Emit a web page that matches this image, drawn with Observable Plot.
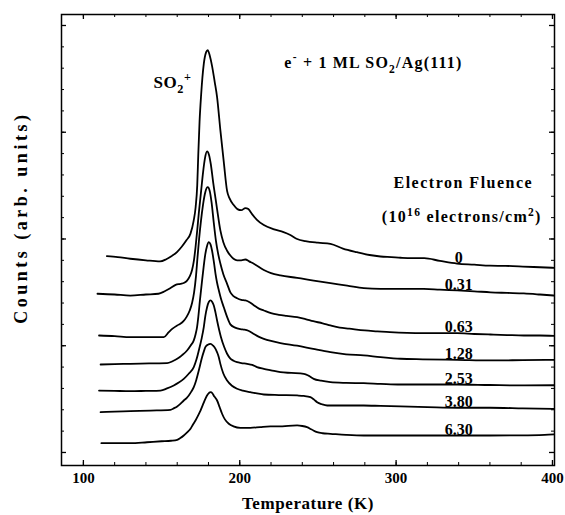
<!DOCTYPE html>
<html>
<head>
<meta charset="utf-8">
<script src="https://cdn.jsdelivr.net/npm/d3@7"></script>
<script src="https://cdn.jsdelivr.net/npm/@observablehq/plot@0.6"></script>
<style>
  html, body { margin: 0; padding: 0; background: #fff; }
  #chart svg { display: block; }
</style>
</head>
<body>
<div id="chart"></div>
<script>
// ---------- data (temperature K, counts arb. units) ----------
const fluenceLabels = ["0", "0.31", "0.63", "1.28", "2.53", "3.80", "6.30"];

const curve0 = [[115,1.84],[122,1.83],[130,1.815],[140,1.80],[149,1.79],[153,1.81],[156,1.835],[160,1.88],[163,1.93],[166,1.99],[168.5,2.05],[170.5,2.17],[171.8,2.3],[172.8,2.5],[173.5,2.8],[174.3,3.1],[175.3,3.35],[177,3.64],[178.5,3.75],[179.5,3.77],[180.8,3.72],[182.3,3.62],[184,3.47],[185.5,3.33],[187.6,3.02],[189.8,2.72],[191.9,2.45],[193.5,2.38],[196,2.32],[198.5,2.28],[201,2.27],[203.6,2.29],[205.5,2.28],[208,2.23],[211,2.18],[215.4,2.13],[222,2.09],[228,2.064],[232,2.04],[236.7,2.0],[242,1.98],[250,1.965],[258,1.955],[266,1.91],[275,1.876],[283,1.85],[290,1.836],[297,1.83],[303,1.824],[310,1.82],[318,1.82],[328,1.795],[339,1.77],[350,1.76],[360,1.75],[370,1.748],[381,1.742],[392,1.735],[401,1.73]];

const curve1 = [[109,1.487],[120,1.48],[130,1.47],[140,1.48],[148,1.487],[152,1.51],[155.7,1.54],[159,1.57],[162,1.58],[164.5,1.59],[166.3,1.61],[168,1.65],[169.5,1.71],[170.7,1.8],[171.7,1.92],[172.8,2.08],[173.8,2.24],[175.3,2.45],[176.5,2.62],[177.8,2.76],[179.1,2.82],[180.3,2.79],[181.5,2.7],[183,2.53],[184.5,2.38],[185.5,2.28],[187.6,2.08],[189.5,1.97],[191.9,1.89],[194,1.845],[196,1.815],[198.3,1.80],[201,1.80],[203.6,1.808],[206,1.79],[209,1.768],[215.4,1.71],[220,1.68],[226,1.658],[236.7,1.636],[247.3,1.61],[258,1.586],[268.7,1.564],[279.3,1.54],[290,1.533],[302.8,1.533],[317.7,1.533],[328,1.525],[339,1.518],[350,1.51],[360.4,1.50],[371,1.495],[381.7,1.49],[392,1.48],[401,1.47]];

const curve2 = [[110,1.096],[120,1.09],[130,1.08],[140,1.08],[151.4,1.08],[154.6,1.127],[157,1.16],[160,1.19],[162,1.205],[164,1.23],[166,1.27],[168,1.33],[169.5,1.40],[170.8,1.50],[172,1.65],[173,1.83],[174,2.0],[175.2,2.17],[176.5,2.32],[178,2.44],[179.5,2.485],[180.8,2.45],[182,2.34],[183.4,2.15],[184.8,1.98],[186.2,1.86],[187.6,1.77],[189.5,1.67],[191.9,1.58],[194,1.50],[196,1.465],[198.3,1.445],[201,1.43],[203.6,1.424],[206,1.41],[209,1.38],[212,1.35],[215.4,1.33],[220,1.305],[225,1.29],[230,1.28],[236.7,1.268],[242,1.25],[247,1.23],[253,1.21],[258,1.19],[264,1.17],[270,1.16],[280,1.143],[288,1.135],[296,1.127],[307,1.12],[317.7,1.118],[328,1.118],[339,1.118],[350,1.11],[360.4,1.105],[371,1.1],[381.7,1.096],[392,1.096],[401,1.093]];

const curve3 = [[111,0.824],[120,0.828],[130,0.83],[142,0.834],[153.5,0.837],[157,0.855],[160,0.878],[163,0.91],[166.3,0.955],[168.5,1.0],[170.6,1.05],[171.8,1.11],[172.7,1.174],[173.5,1.27],[174.5,1.42],[175.9,1.61],[177,1.75],[178,1.86],[179,1.93],[180.2,1.97],[181.3,1.95],[182.3,1.89],[183.4,1.79],[184.5,1.674],[185.5,1.59],[186.6,1.52],[188,1.44],[189.8,1.36],[191.9,1.27],[194,1.2],[197,1.17],[200.4,1.155],[203,1.15],[205.5,1.14],[209,1.11],[212,1.085],[215.4,1.065],[220,1.045],[226,1.025],[236.7,1.0],[247,0.97],[258,0.94],[268,0.92],[279.3,0.909],[290,0.893],[302.8,0.878],[317,0.873],[339,0.868],[360.4,0.862],[381,0.865],[401,0.868]];

const curve4 = [[110,0.58],[120,0.577],[130,0.574],[140,0.577],[149.3,0.58],[153.5,0.6],[157.8,0.628],[161,0.655],[164.2,0.69],[167.5,0.74],[170.6,0.8],[172.3,0.87],[173.8,0.955],[175.5,1.06],[177,1.174],[178,1.28],[179.1,1.36],[180.2,1.41],[181.3,1.424],[182.4,1.41],[183.4,1.377],[184.5,1.31],[185.5,1.236],[186.8,1.15],[188,1.08],[190,0.99],[191.9,0.925],[194,0.88],[196,0.86],[198.3,0.846],[201,0.838],[204.7,0.83],[208,0.82],[211,0.8],[215.4,0.784],[220,0.77],[226,0.752],[233,0.745],[241,0.737],[244,0.72],[247.3,0.69],[252,0.672],[258,0.659],[268,0.652],[279.3,0.649],[290,0.643],[302.8,0.637],[320,0.637],[339,0.637],[360,0.632],[381.7,0.628],[401,0.63]];

const curve5 = [[111,0.378],[120,0.382],[130,0.387],[143,0.393],[155.7,0.40],[158,0.415],[160,0.431],[162,0.455],[164.2,0.487],[166,0.51],[167.4,0.534],[169,0.57],[170.6,0.612],[172.2,0.68],[173.8,0.768],[175,0.84],[175.9,0.893],[177,0.945],[178,0.986],[179.6,1.01],[181.3,1.018],[183,1.0],[184.5,0.971],[185.6,0.935],[186.6,0.893],[187.6,0.83],[189.5,0.74],[191.9,0.674],[195,0.625],[198.3,0.597],[202,0.58],[206.8,0.565],[211,0.553],[215.4,0.543],[225,0.538],[236.7,0.534],[241,0.53],[245.2,0.518],[247.5,0.495],[249.5,0.471],[252.5,0.452],[255.9,0.44],[268,0.44],[279.3,0.44],[290,0.436],[302.8,0.431],[320,0.425],[339,0.419],[360,0.419],[381,0.414],[401,0.409]];

const curve6 = [[111.5,0.087],[120,0.087],[130,0.087],[140.7,0.096],[150,0.105],[156,0.11],[160,0.118],[162,0.135],[164.2,0.159],[166.5,0.19],[168.5,0.222],[170,0.26],[171.7,0.3],[173.3,0.345],[174.9,0.393],[176.5,0.45],[178,0.503],[179.6,0.545],[181.3,0.565],[182.5,0.555],[183.5,0.53],[184.5,0.51],[185.5,0.487],[187,0.43],[188.7,0.363],[190.5,0.31],[193,0.269],[196,0.245],[200.4,0.231],[206.8,0.231],[213,0.238],[219.6,0.244],[226,0.244],[231,0.25],[236.7,0.253],[240,0.248],[243,0.237],[246,0.215],[249.5,0.19],[253,0.18],[258,0.175],[268,0.165],[279.3,0.159],[290,0.159],[302.8,0.159],[320,0.159],[340,0.159],[360,0.159],[380,0.16],[395,0.165],[401,0.17]];

const curves = [curve0, curve1, curve2, curve3, curve4, curve5, curve6];

const xTickLabels = [100, 200, 300, 400];
const xMinorTicks = d3.range(100, 401, 20);
const yMajorTicks = [0, 1, 2, 3, 4];
const yMinorTicks = d3.range(0, 4.01, 0.2);

const titleText = "e^{-} + 1 ML SO_{2}/Ag(111)";
const peakText = "SO_{2}^{+}";
const legendTitle = "Electron Fluence";
const legendUnits = "(10^{16} electrons/cm^{2})";
const xLabel = "Temperature (K)";
const yLabel = "Counts (arb. units)";

// ---------- build ----------
const rows = curves.flatMap((c, i) => c.map(([T, v]) => ({T, v, series: fluenceLabels[i]})));
const labelT = 340;
function valueAt(c, T) {
  for (let k = 1; k < c.length; k++) {
    if (c[k][0] >= T) {
      const [t0, v0] = c[k - 1], [t1, v1] = c[k];
      return v0 + (v1 - v0) * (T - t0) / (t1 - t0);
    }
  }
  return c[c.length - 1][1];
}
const labelRows = curves.map((c, i) => ({T: labelT, v: valueAt(c, labelT), text: fluenceLabels[i]}));

const width = 565, height = 515;
const mL = 61, mR = 11, mT = 14, mB = 50;
const innerW = width - mL - mR, innerH = height - mT - mB;

const plot = Plot.plot({
  width, height,
  marginLeft: mL, marginRight: mR, marginTop: mT, marginBottom: mB,
  x: {domain: [86, 401.3], axis: null},
  y: {domain: [-0.122, 4.103], axis: null},
  style: {fontFamily: '"Liberation Serif", "Times New Roman", serif', fontWeight: "bold", background: "white", color: "black"},
  marks: [
    Plot.frame({stroke: "black", strokeWidth: 1.5}),
    // x ticks bottom & top (inward)
    Plot.tickX(xTickLabels, {x: d => d, insetTop: innerH - 5, stroke: "black", strokeWidth: 1.3}),
    Plot.tickX(xMinorTicks, {x: d => d, insetTop: innerH - 3, stroke: "black", strokeWidth: 1}),
    Plot.tickX(xTickLabels, {x: d => d, insetBottom: innerH - 5, stroke: "black", strokeWidth: 1.3}),
    Plot.tickX(xMinorTicks, {x: d => d, insetBottom: innerH - 3, stroke: "black", strokeWidth: 1}),
    // y ticks left & right (inward)
    Plot.tickY(yMajorTicks, {y: d => d, insetRight: innerW - 5, stroke: "black", strokeWidth: 1.3}),
    Plot.tickY(yMinorTicks, {y: d => d, insetRight: innerW - 3, stroke: "black", strokeWidth: 1}),
    Plot.tickY(yMajorTicks, {y: d => d, insetLeft: innerW - 5, stroke: "black", strokeWidth: 1.3}),
    Plot.tickY(yMinorTicks, {y: d => d, insetLeft: innerW - 3, stroke: "black", strokeWidth: 1}),
    // spectra
    Plot.line(rows, {x: "T", y: "v", z: "series", stroke: "black", strokeWidth: 1.8, curve: "monotone-x"}),
    // fluence labels
    Plot.text(labelRows, {x: "T", y: "v", text: "text", lineAnchor: "bottom", dy: -1, fontSize: 16, fill: "black"}),
    // annotations
    Plot.text([titleText], {x: [285.5], y: [3.6], lineAnchor: "bottom", fontSize: 16, fill: "black"}),
    Plot.text([peakText], {x: [157], y: [3.41], lineAnchor: "bottom", fontSize: 17, fill: "black"}),
    Plot.text([legendTitle], {x: [343], y: [2.48], lineAnchor: "bottom", fontSize: 16, fill: "black"}),
    Plot.text([legendUnits], {x: [342], y: [2.155], lineAnchor: "bottom", fontSize: 16, fill: "black"}),
    // axis tick labels and titles
    Plot.text(xTickLabels, {x: d => d, text: d => String(d), frameAnchor: "bottom", dy: 17, fontSize: 15, fill: "black"}),
    Plot.text([xLabel], {frameAnchor: "bottom", dy: 43, fontSize: 17, fill: "black"}),
    Plot.text([yLabel], {y: [2.2], frameAnchor: "left", textAnchor: "middle", dx: -40, rotate: -90, fontSize: 18, fill: "black"})
  ]
});

// rich text: sub/superscripts and letter spacing
const NS = "http://www.w3.org/2000/svg";
const spacing = {};
spacing[titleText] = 1.2; spacing[peakText] = 0.5; spacing[legendTitle] = 1.5;
spacing[legendUnits] = 1.3; spacing[xLabel] = 0.6; spacing[yLabel] = 3.5;
plot.querySelectorAll("text").forEach(t => {
  const s = t.textContent;
  if (spacing[s] != null) t.style.letterSpacing = spacing[s] + "px";
  if (!/[_^]\{/.test(s)) return;
  const fs = parseFloat(t.closest("[font-size]")?.getAttribute("font-size") || t.getAttribute("font-size") || 16);
  t.textContent = "";
  const re = /([_^])\{([^}]*)\}|([^_^]+)/g;
  let m, cur = 0;
  while ((m = re.exec(s))) {
    const ts = document.createElementNS(NS, "tspan");
    let target = 0;
    if (m[1]) {
      target = m[1] === "^" ? -0.42 * fs : 0.28 * fs;
      ts.setAttribute("font-size", (0.72 * fs) + "px");
      ts.textContent = m[2];
    } else {
      ts.textContent = m[3];
    }
    ts.setAttribute("dy", (target - cur) + "px");
    cur = target;
    t.appendChild(ts);
  }
});

document.getElementById("chart").appendChild(plot);
</script>
</body>
</html>
